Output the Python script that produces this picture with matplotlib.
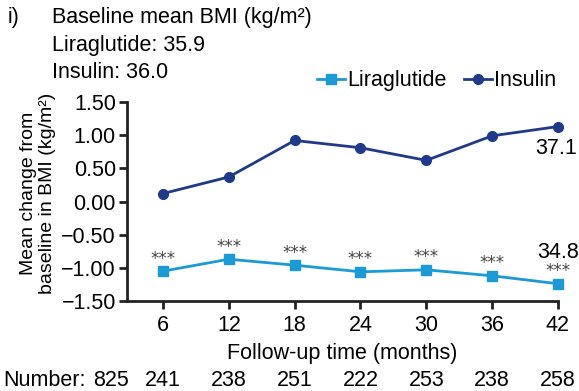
import matplotlib
matplotlib.use("Agg")
import matplotlib.pyplot as plt

plt.rcParams['font.family'] = ['Liberation Sans', 'DejaVu Sans']

months = [6, 12, 18, 24, 30, 36, 42]
liraglutide = [-1.05, -0.87, -0.96, -1.06, -1.03, -1.12, -1.24]
insulin = [0.12, 0.37, 0.92, 0.81, 0.62, 0.99, 1.13]
numbers = ["825", "241", "238", "251", "222", "253", "238", "258"]
yticks = [1.50, 1.00, 0.50, 0.00, -0.50, -1.00, -1.50]

lira_color = "#1b9ad6"
ins_color = "#203a8a"
FS = 15.5

W, H = 579, 391
fig = plt.figure(figsize=(W / 100, H / 100), dpi=100)
ax = fig.add_axes([127 / W, 1 - 301 / H, (558 - 127) / W, (301 - 102) / H])

ax.plot(months, liraglutide, color=lira_color, lw=2, marker="s", ms=7,
        clip_on=False, label="Liraglutide", zorder=3)
ax.plot(months, insulin, color=ins_color, lw=2, marker="o", ms=7,
        clip_on=False, label="Insulin", zorder=3)

for m, v in zip(months, liraglutide):
    ax.annotate("***", (m, v), xytext=(0, 9), textcoords="offset points",
                ha="center", va="center", fontsize=12, color="#444444",
                family="DejaVu Sans")

ax.annotate("37.1", (months[-1], insulin[-1]), xytext=(14, -8),
            textcoords="offset points", ha="right", va="top", fontsize=FS)
ax.annotate("34.8", (months[-1], liraglutide[-1]), xytext=(15, 15),
            textcoords="offset points", ha="right", va="bottom", fontsize=FS)

ax.set_xlim(2.72, 42)
ax.set_ylim(-1.5, 1.5)
ax.set_xticks(months)
ax.set_yticks(yticks)
ax.set_yticklabels([f"{t:.2f}".replace("-", "\u2212") for t in yticks])
ax.tick_params(axis="both", labelsize=FS, width=2, length=6, color="#222222")
ax.tick_params(axis="x", pad=4)
ax.tick_params(axis="y", pad=2)
for s in ["top", "right"]:
    ax.spines[s].set_visible(False)
for s in ["left", "bottom"]:
    ax.spines[s].set_linewidth(2)
    ax.spines[s].set_color("#222222")

ax.set_xlabel("Follow-up time (months)", fontsize=FS, labelpad=5)
ax.set_ylabel("Mean change from\nbaseline in BMI (kg/m\u00b2)", fontsize=14,
              linespacing=1.15)
ax.yaxis.set_label_coords(-0.165, 0.54)

leg = ax.legend(loc="lower right", bbox_to_anchor=(1.02, 1.0), ncol=2,
                frameon=False, fontsize=FS, handlelength=1.3,
                handletextpad=0.1, columnspacing=0.8, borderaxespad=0.1)

# header text
fig.text(8 / W, 1 - 18 / H, "i)", fontsize=FS, va="center")
fig.text(52 / W, 1 - 18 / H, "Baseline mean BMI (kg/m\u00b2)", fontsize=FS, va="center")
fig.text(52 / W, 1 - 45 / H, "Liraglutide: 35.9", fontsize=FS, va="center")
fig.text(52 / W, 1 - 72 / H, "Insulin: 36.0", fontsize=FS, va="center")

# patient numbers row
fig.text(3 / W, 1 - 381 / H, "Number:", fontsize=FS, va="center")
fig.text(111 / W, 1 - 381 / H, numbers[0], fontsize=FS, va="center", ha="center")
for m, n in zip(months, numbers[1:]):
    xd = ax.transData.transform((m, 0))[0]
    fig.text(xd / W, 1 - 381 / H, n, fontsize=FS, va="center", ha="center")

fig.savefig("out.png", dpi=100)
